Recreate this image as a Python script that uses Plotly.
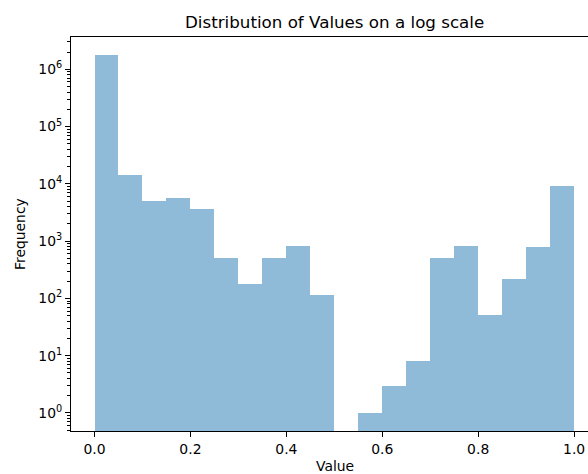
import plotly.graph_objects as go

# Histogram bins (20 equal-width bins on [0, 1]) and their counts
bin_edges = [round(i * 0.05, 2) for i in range(21)]
counts = [1790000, 14100, 5080, 5740, 3600, 500, 180, 500, 811, 113,
          0, 1, 3, 8, 500, 830, 52, 215, 798, 9190]

x_tick_vals = [0.0, 0.2, 0.4, 0.6, 0.8, 1.0]
x_tick_text = ["0.0", "0.2", "0.4", "0.6", "0.8", "1.0"]
y_tick_vals = [1, 10, 100, 1000, 10000, 100000, 1000000]
y_tick_text = ["10<sup>0</sup>", "10<sup>1</sup>", "10<sup>2</sup>", "10<sup>3</sup>",
               "10<sup>4</sup>", "10<sup>5</sup>", "10<sup>6</sup>"]

centers = [(a + b) / 2 for a, b in zip(bin_edges[:-1], bin_edges[1:])]
widths = [b - a for a, b in zip(bin_edges[:-1], bin_edges[1:])]

minor_vals = [k * 10 ** n for n in range(-1, 7) for k in range(2, 10)]

FONT = "DejaVu Sans"

fig = go.Figure(
    go.Bar(
        x=centers,
        y=counts,
        width=widths,
        marker=dict(color="rgba(31,119,180,0.5)", line=dict(width=0)),
        showlegend=False,
    )
)

fig.update_layout(
    width=588,
    height=474,
    margin=dict(l=71, r=0, t=37, b=43),
    paper_bgcolor="white",
    plot_bgcolor="white",
    font=dict(family=FONT, size=13.9, color="black"),
    bargap=0,
    annotations=[
        dict(text="Distribution of Values on a log scale", xref="paper", yref="paper",
             x=0.5098, y=1, yshift=15, xanchor="center", yanchor="middle",
             showarrow=False, font=dict(family=FONT, size=16.7, color="black")),
        dict(text="Value", xref="paper", yref="paper", x=0.5098, y=0,
             yshift=-35, xanchor="center", yanchor="middle", showarrow=False,
             font=dict(family=FONT, size=13.9, color="black")),
        dict(text="Frequency", xref="paper", yref="paper", x=0, y=0.5,
             xshift=-51, xanchor="center", yanchor="middle", textangle=-90,
             showarrow=False, font=dict(family=FONT, size=13.9, color="black")),
    ],
)

fig.update_xaxes(
    range=[-0.049, 1.029],
    tickvals=x_tick_vals,
    ticktext=x_tick_text,
    ticks="outside",
    ticklen=5,
    tickwidth=1,
    tickcolor="black",
    showline=True,
    linecolor="black",
    linewidth=1,
    mirror=True,
    showgrid=False,
    zeroline=False,
)

fig.update_yaxes(
    type="log",
    range=[-0.3147, 6.563],
    tickvals=y_tick_vals,
    ticktext=y_tick_text,
    ticks="outside",
    ticklen=5,
    tickwidth=1,
    tickcolor="black",
    minor=dict(tickmode="array", tickvals=minor_vals, ticks="outside",
               ticklen=3, tickwidth=0.8, tickcolor="black", showgrid=False),
    showline=True,
    linecolor="black",
    linewidth=1,
    showgrid=False,
    zeroline=False,
)

fig.write_html("out.html")
